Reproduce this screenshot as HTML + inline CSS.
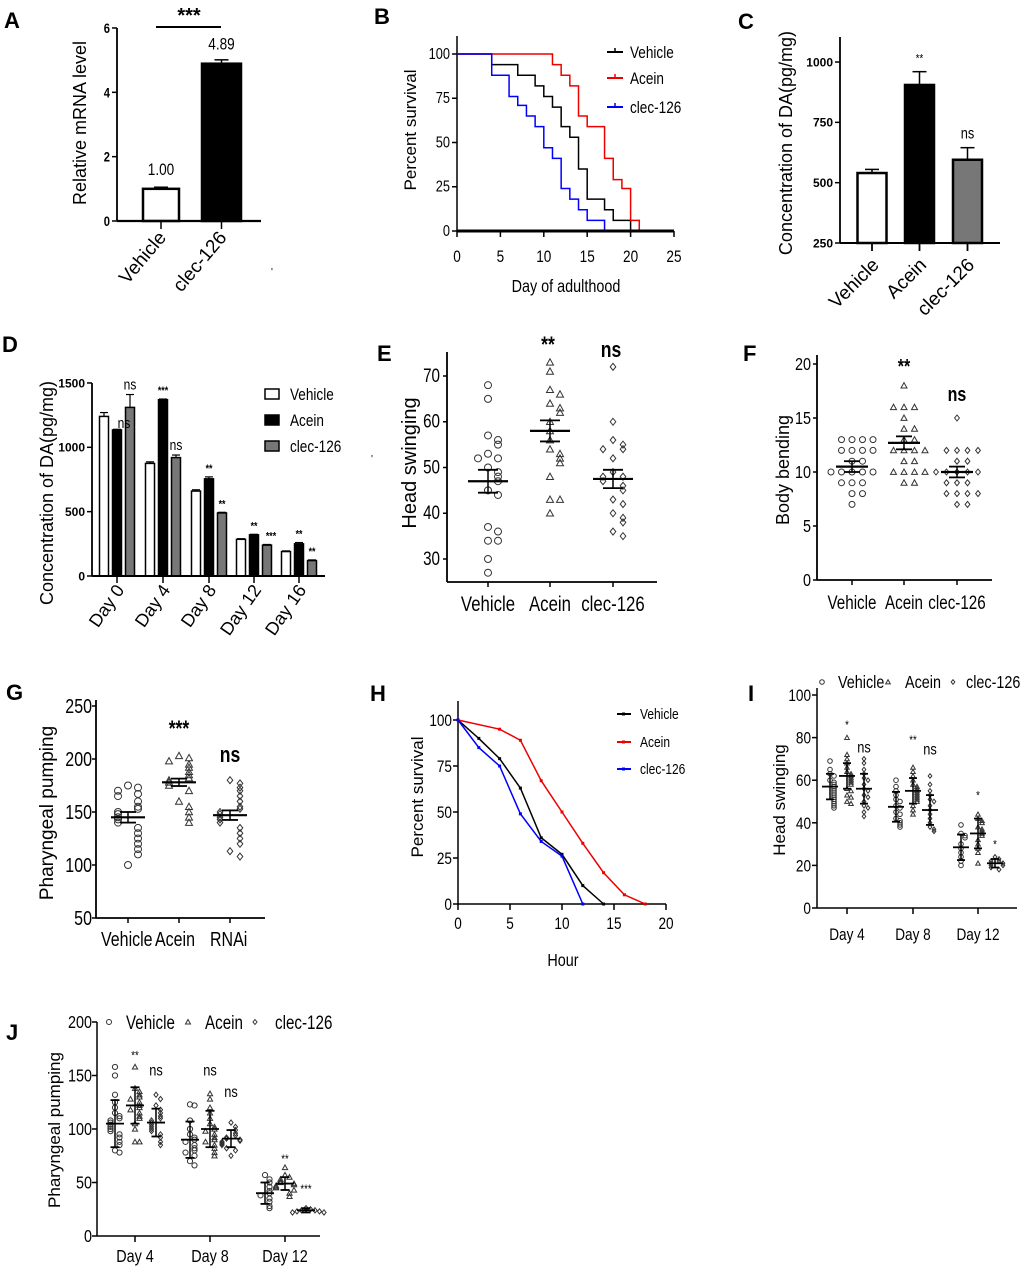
<!DOCTYPE html>
<html><head><meta charset="utf-8"><style>
html,body{margin:0;padding:0;background:#fff}
svg{display:block}
text{font-family:"Liberation Sans",sans-serif;fill:#000}
</style></head><body>
<svg id="fig" width="1020" height="1281" viewBox="0 0 1020 1281" xmlns="http://www.w3.org/2000/svg"></svg>
<script>
// ---- Panel A data
const aCats=["Vehicle","clec-126"];
const aVals=[1.00,4.89];
const aErr=[0.05,0.12];
const aTicks=[0,2,4,6];
// ---- Panel B data
const bDays=[0,4,6,7,8,9,10,11,12,13,14,15,17,18,19,20,21];
const bVehicle=[100,94,94,88,88,82,76,70,59,53,35,18,12,6,6,0,0];
const bAcein=[100,100,100,100,100,100,100,94,88,82,65,59,41,29,24,6,0];
const bClec=[100,88,76,71,65,59,47,41,24,18,12,6,0,0,0,0,0];
const bXTicks=[0,5,10,15,20,25];
const bYTicks=[0,25,50,75,100];
// ---- Panel C data
const cCats=["Vehicle","Acein","clec-126"];
const cVals=[540,905,595];
const cErr=[15,55,50];
const cSig=["","**","ns"];
const cTicks=[250,500,750,1000];
// ---- Panel D data
const dDays=["Day 0","Day 4","Day 8","Day 12","Day 16"];
const dVehicle=[1240,875,660,285,190];
const dAcein=[1135,1370,755,320,250];
const dClec=[1310,920,490,240,120];
const dErrV=[30,12,10,5,5];
const dErrA=[5,5,15,4,10];
const dErrC=[100,20,5,5,5];
const dSigA=["ns","***","**","**","**"];
const dSigC=["ns","ns","**","***","**"];
const dTicks=[0,500,1000,1500];
// ---- Panel E data
const eCats=["Vehicle","Acein","clec-126"];
const eVehicle=[68,65,57,56,55,53,52,52,50,49,48,47,45,44,37,36,34,34,30,27];
const eAcein=[73,71,67,66,64,63,62,60,58,56,54,53,52,51,48,43,43,40];
const eClec=[72,60,56,55,54,54,52,49,48,48,47,46,45,43,42,40,39,38,36,35];
const eMeans=[47,58,47.5];
const eSem=[2.5,2.3,2];
const eSig=["","**","ns"];
const eTicks=[30,40,50,60,70];
// ---- Panel F data
const fCats=["Vehicle","Acein","clec-126"];
const fVehicle=[13,13,13,13,12,12,12,12,11,11,10,10,10,10,10,9,9,9,8,8,7];
const fAcein=[18,16,16,16,15,14,14,13,13,12,12,12,12,11,11,10,10,10,10,9,9];
const fClec=[15,12,12,12,12,11,11,10,10,10,10,10,9,9,9,8,8,8,8,7,7];
const fMeans=[10.5,12.7,10];
const fSem=[0.5,0.6,0.5];
const fSig=["","**","ns"];
const fTicks=[0,5,10,15,20];
// ---- Panel G data
const gCats=["Vehicle","Acein","RNAi"];
const gVehicle=[175,173,170,167,165,160,155,153,150,148,145,143,140,135,130,125,120,115,110,100];
const gAcein=[203,201,198,195,192,188,185,182,180,178,175,170,160,155,150,145,140];
const gRnai=[180,177,173,170,165,160,155,153,150,148,145,143,140,135,130,125,120,113,108];
const gMeans=[145,178,147];
const gSem=[5,3.5,4.5];
const gSig=["","***","ns"];
const gTicks=[50,100,150,200,250];
// ---- Panel H data
const hVehX=[0,2,4,6,8,10,12,14];
const hVehY=[100,90,79,63,36,27,10,0];
const hAceX=[0,4,6,8,10,12,14,16,18];
const hAceY=[100,95,89,67,50,33,17,5,0];
const hClecX=[0,2,4,6,8,10,12];
const hClecY=[100,85,75,49,34,26,0];
const hXTicks=[0,5,10,15,20];
const hYTicks=[0,25,50,75,100];
// ---- Panel I data
const iDays=["Day 4","Day 8","Day 12"];
const iVehicle=[[69,65,63,62,60,59,58,57,56,55,54,53,52,51,50,49,48,47],[60,57,55,53,51,50,48,47,45,44,42,41,40,39,38],[39,35,34,33,30,28,26,24,22,20]];
const iAcein=[[80,72,70,68,66,64,63,62,61,60,59,58,56,55,53,52,50,49],[66,64,62,60,58,57,56,55,54,53,52,51,50,48,46,44],[44,42,41,40,38,37,36,35,34,32,30,28,26,21]];
const iClec=[[70,68,65,63,61,60,58,56,55,53,52,50,48,47,45,43],[62,58,55,53,51,50,48,46,44,42,40,38,37,36],[24,23,22,22,21,21,20,20,19,18]];
const iMeans=[[57,62,56],[47.5,55,46],[28.5,35,21]];
const iSd=[[6,6,7],[7,6,7],[6,7,2]];
const iSigA=["*","**","*"];
const iSigC=["ns","ns","*"];
const iSigAVal=[84,77,51];
const iSigCVal=[73,72,28];
const iTicks=[0,20,40,60,80,100];
// ---- Panel J data
const jDays=["Day 4","Day 8","Day 12"];
const jVehicle=[[158,150,132,125,120,115,112,110,108,106,104,102,100,98,95,92,88,85,80,78],[123,122,108,100,95,92,90,88,85,82,80,78,75,70,66],[57,53,50,46,42,40,38,35,32,28,26]];
const jAcein=[[158,138,135,132,130,128,125,122,120,118,115,112,110,105,100,88,88],[133,128,120,115,110,105,102,100,98,95,92,90,88,85,82,78,75],[64,57,55,53,51,50,49,48,47,46,45,43,40,37]];
const jClec=[[132,128,122,118,115,112,110,108,106,104,102,100,98,95,92,88,85],[106,102,99,96,94,92,91,90,89,88,87,86,85,82,80,75],[26,25,24,24,23,23,22,22]];
const jMeans=[[105,122,106],[90,100,91],[40,49,24]];
const jSd=[[22,17,13],[17,17,8],[10,6,2]];
const jSigA=["**","ns","**"];
const jSigC=["ns","ns","***"];
const jSigAVal=[165,150,68];
const jSigCVal=[150,130,40];
const jTicks=[0,50,100,150,200];

const NS="http://www.w3.org/2000/svg";
const svg=document.getElementById('fig');
function mk(tag,attrs,name,parent){
  const el=document.createElementNS(NS,tag);
  for(const k in attrs) el.setAttribute(k,attrs[k]);
  
  
  (parent||svg).appendChild(el);
  return el;
}
function line(x1,y1,x2,y2,name,sw,col){return mk('line',{x1,y1,x2,y2,stroke:col||'#000','stroke-width':sw||1.5},name);}
function txt(x,y,s,name,opt){
  opt=opt||{};
  const a={x,y,'font-size':opt.fs||14,'text-anchor':opt.anchor||'middle'};
  if(opt.bold)a['font-weight']='bold';
  let tr='';
  if(opt.rot!==undefined)tr+='rotate('+opt.rot+' '+x+' '+y+') ';
  if(opt.cls==='n')tr+='translate('+x+' '+y+') scale(0.8 1) translate('+(-x)+' '+(-y)+')';
  if(tr)a.transform=tr;
  if(opt.fill)a.fill=opt.fill;
  const t=mk('text',a,name);t.textContent=s;return t;
}
function yAxis(x,yTop,yBot,ticks,ys,name,fs,bold,cls){
  line(x,yTop,x,yBot,name+'-line',1.8);
  ticks.forEach(v=>{const y=ys(v);line(x-5,y,x,y,name+'-tick',1.5);
    txt(x-7,y+fs*0.36,String(v),name+'-tick-label',{fs,anchor:'end',bold,cls});});
}
function marker(shape,x,y,r,name){
  if(shape==='c') return mk('circle',{cx:x,cy:y,r,fill:'none',stroke:'#333','stroke-width':1},name);
  if(shape==='t') return mk('polygon',{points:`${x},${y-r} ${x-r},${y+r*0.8} ${x+r},${y+r*0.8}`,fill:'none',stroke:'#333','stroke-width':1},name);
  return mk('polygon',{points:`${x},${y-r} ${x+r*0.8},${y} ${x},${y+r} ${x-r*0.8},${y}`,fill:'none',stroke:'#333','stroke-width':1},name);
}
function swarm(vals,cx,ys,shape,r,sp,name){
  const placed=[];
  vals.forEach(v=>{const y=ys(v);let k=placed.filter(p=>Math.abs(p-y)<r*1.7).length;placed.push(y);
    const off=k===0?0:(k%2?1:-1)*Math.ceil(k/2)*sp;marker(shape,cx+off,y,r,name);});
}
function errBar(cx,m,e,ys,hw,cw,name,sw){
  line(cx-hw,ys(m),cx+hw,ys(m),name+'-mean',sw||2.2);
  line(cx,ys(m-e),cx,ys(m+e),name+'-bar',1.5);
  line(cx-cw,ys(m+e),cx+cw,ys(m+e),name+'-cap',1.8);
  line(cx-cw,ys(m-e),cx+cw,ys(m-e),name+'-cap',1.8);
}
function panelLabel(x,y,s){txt(x,y,s,'panel-label-'+s.toLowerCase(),{fs:22,bold:true,anchor:'start'});}

// ===== A
panelLabel(4,28,'A');
const yA=v=>221-v*32.17;
const aX=[161,221.5],aW=[36,39];
aCats.forEach((c,i)=>{
  mk('rect',{x:aX[i]-aW[i]/2,y:yA(aVals[i]),width:aW[i],height:221-yA(aVals[i]),fill:i?'#000':'#fff',stroke:'#000','stroke-width':2.5},'bar-'+c);
  line(aX[i]-7,yA(aVals[i]+aErr[i]),aX[i]+7,yA(aVals[i]+aErr[i]),'error-cap',1.5);
  line(aX[i],yA(aVals[i]),aX[i],yA(aVals[i]+aErr[i]),'error-bar',1.5);
  txt(aX[i],yA(aVals[i])-14,aVals[i].toFixed(2),'value-label',{fs:17,cls:'n'});
  line(aX[i],221,aX[i],229,'x-tick',1.5);
  txt(aX[i]+6,238,c,'x-tick-label',{fs:19,anchor:'end',rot:-50});
});
yAxis(117,28,221,aTicks,yA,'a-y-axis',14,true,'n');
line(117,221,261,221,'a-x-axis',2.2);
line(156,27,221,27,'significance-line',2);
txt(189,22,'***','significance-stars',{fs:20,bold:true});
txt(86,123,'Relative mRNA level','a-y-axis-title',{fs:18,rot:-90});
txt(272,275,"'",'stray-mark',{fs:10,fill:'#888'});

// ===== B
panelLabel(374,24,'B');
const xB=d=>457+d*8.68, yB=p=>231-p*1.77;
line(457,36,457,231,'b-y-axis',1.5);
bYTicks.forEach(v=>{line(452,yB(v),457,yB(v),'b-y-tick',1.5);txt(450,yB(v)+5,String(v),'b-y-tick-label',{fs:16,anchor:'end',cls:'n'});});
bXTicks.forEach(v=>{line(xB(v),231,xB(v),237,'b-x-tick',1.5);txt(xB(v),262,String(v),'b-x-tick-label',{fs:17,cls:'n'});});
function step(xs,ys,col,name){let d='';xs.forEach((x,i)=>{if(i===0)d+=`M${xB(x)},${yB(ys[i])}`;else d+=`H${xB(x)}V${yB(ys[i])}`;});
  mk('path',{d,fill:'none',stroke:col,'stroke-width':1.5},name);}
step(bDays,bVehicle,'#000','survival-vehicle');
step(bDays,bAcein,'#e00','survival-acein');
step(bDays,bClec,'#00f','survival-clec-126');
line(457,231,674,231,'b-x-axis',3);
[['Vehicle','#000',52],['Acein','#e00',78],['clec-126','#00f',107]].forEach(l=>{line(607,l[2],623,l[2],'legend-line',2,l[1]);line(615,l[2]-4,615,l[2],'legend-tick',1.5,l[1]);txt(630,l[2]+6,l[0],'legend-entry',{fs:17,anchor:'start',cls:'n'});});
txt(566,292,'Day of adulthood','b-x-axis-title',{fs:18,cls:'n'});
txt(416,130,'Percent survival','b-y-axis-title',{fs:17,rot:-90});

// ===== C
txt(738,29,'C','panel-label-c',{fs:22,bold:true,anchor:'start'});
const yC=v=>243-(v-250)*0.2413;
const cX=[872,919.5,967.5], cFill=['#fff','#000','#777'];
cCats.forEach((c,i)=>{
  mk('rect',{x:cX[i]-14.5,y:yC(cVals[i]),width:29,height:243-yC(cVals[i]),fill:cFill[i],stroke:'#000','stroke-width':2.5},'bar-'+c);
  line(cX[i],yC(cVals[i]),cX[i],yC(cVals[i]+cErr[i]),'error-bar',1.5);
  line(cX[i]-7,yC(cVals[i]+cErr[i]),cX[i]+7,yC(cVals[i]+cErr[i]),'error-cap',1.5);
  if(cSig[i])txt(cX[i],yC(cVals[i]+cErr[i])-9,cSig[i],'significance-label',{fs:cSig[i]==='ns'?16:12,cls:'n'});
  line(cX[i],243,cX[i],251,'x-tick',1.8);
  txt(cX[i]+8,266,c,'x-tick-label',{fs:19,anchor:'end',rot:-45});
});
yAxis(840,37,243,cTicks,yC,'c-y-axis',12,true);
line(840,243,1000,243,'c-x-axis',2);
txt(792,143,'Concentration of DA(pg/mg)','c-y-axis-title',{fs:18,rot:-90});

// ===== D
panelLabel(2,352,'D');
const yD=v=>576-v*0.1287;
const dX=[117,163,209,254,299];
const dSeries=[[dVehicle,dErrV,'#fff',-13],[dAcein,dErrA,'#000',0],[dClec,dErrC,'#777',13]];
dDays.forEach((d,i)=>{
  dSeries.forEach((s,j)=>{const cx=dX[i]+s[3];
    mk('rect',{x:cx-4.5,y:yD(s[0][i]),width:9,height:576-yD(s[0][i]),fill:s[2],stroke:'#000','stroke-width':1.5},'bar-'+d.replace(' ','-').toLowerCase());
    line(cx,yD(s[0][i]),cx,yD(s[0][i]+s[1][i]),'error-bar',1.2);
    line(cx-4,yD(s[0][i]+s[1][i]),cx+4,yD(s[0][i]+s[1][i]),'error-cap',1.2);
  });
  [[dSigA[i],0],[dSigC[i],13]].forEach(([s,o],k)=>{const cx=dX[i]+o;let v=k?dClec[i]+dErrC[i]:dAcein[i]+dErrA[i];
    let x=cx,y=yD(v)-5;
    if(i===0&&k===0){x=dX[0]+7;y=yD(dAcein[0])-2;}
    if(i===3&&k===1){x=cx+4;}
    txt(x,y,s,'significance-label',{fs:s==='ns'?15:11,bold:s!=='ns',cls:'n'});});
  line(dX[i],576,dX[i],583,'x-tick',1.5);
  txt(dX[i]+8,590,d,'x-tick-label',{fs:18,anchor:'end',rot:-55});
});
yAxis(92,383,576,dTicks,yD,'d-y-axis',12,true);
line(92,576,325,576,'d-x-axis',2);
[['Vehicle','#fff',394],['Acein','#000',420],['clec-126','#777',446]].forEach(l=>{mk('rect',{x:265,y:l[2]-5,width:14,height:10,fill:l[1],stroke:'#000','stroke-width':1.5},'legend-swatch');txt(290,l[2]+6,l[0],'legend-entry',{fs:17,anchor:'start',cls:'n'});});
txt(53,493,'Concentration of DA(pg/mg)','d-y-axis-title',{fs:18,rot:-90});

// ===== E
panelLabel(377,361,'E');
const yE=v=>376+(70-v)*4.575;
const eX=[488,550,613];
line(447,352,447,582,'e-y-axis',1.8);
eTicks.forEach(v=>{line(443,yE(v),447,yE(v),'e-y-tick',1.5);txt(440,yE(v)+6,String(v),'e-y-tick-label',{fs:19,anchor:'end',cls:'n'});});
line(447,582,657,582,'e-x-axis',1.8);
[[eVehicle,'c'],[eAcein,'t'],[eClec,'d']].forEach((s,i)=>{swarm(s[0],eX[i],yE,s[1],3.5,10,'point-'+eCats[i]);
  errBar(eX[i],eMeans[i],eSem[i],yE,20,10,'mean-'+eCats[i]);
  line(eX[i],582,eX[i],587,'x-tick',1.5);
  txt(eX[i],611,eCats[i],'x-tick-label',{fs:21,cls:'n'});
  if(eSig[i])txt(eX[i]-2,eSig[i]==='ns'?357:352,eSig[i],'significance-label',{fs:22,bold:true,cls:'n'});});
txt(416,463,'Head swinging','e-y-axis-title',{fs:20,rot:-90});
txt(372,462,"'",'stray-mark',{fs:10,fill:'#888'});

// ===== F
panelLabel(743,361,'F');
const yF=v=>580-v*10.8;
const fX=[852,904,957];
line(817,355,817,580,'f-y-axis',1.8);
fTicks.forEach(v=>{line(813,yF(v),817,yF(v),'f-y-tick',1.5);txt(811,yF(v)+6,String(v),'f-y-tick-label',{fs:18,anchor:'end',cls:'n'});});
line(817,580,992,580,'f-x-axis',1.8);
[[fVehicle,'c'],[fAcein,'t'],[fClec,'d']].forEach((s,i)=>{swarm(s[0],fX[i],yF,s[1],3,10.5,'point-'+fCats[i]);
  errBar(fX[i],fMeans[i],fSem[i],yF,16,8,'mean-'+fCats[i]);
  line(fX[i],580,fX[i],585,'x-tick',1.5);
  txt(fX[i],609,fCats[i],'x-tick-label',{fs:19,cls:'n'});
  if(fSig[i])txt(fX[i],fSig[i]==='ns'?401:373,fSig[i],'significance-label',{fs:20,bold:true,cls:'n'});});
txt(789,470,'Body bending','f-y-axis-title',{fs:18,rot:-90});

// ===== G
panelLabel(6,700,'G');
const yG=v=>918-(v-50)*1.06;
const gX=[128,179,230];
line(96,700,96,918,'g-y-axis',1.8);
gTicks.forEach(v=>{line(92,yG(v),96,yG(v),'g-y-tick',1.5);txt(92,yG(v)+7,String(v),'g-y-tick-label',{fs:20,anchor:'end',cls:'n'});});
line(96,918,265,918,'g-x-axis',1.8);
[[gVehicle,'c'],[gAcein,'t'],[gRnai,'d']].forEach((s,i)=>{swarm(s[0],gX[i],yG,s[1],3.5,10,'point-'+gCats[i]);
  errBar(gX[i],gMeans[i],gSem[i],yG,17,8,'mean-'+gCats[i]);
  line(gX[i],918,gX[i],923,'x-tick',1.5);
  if(gSig[i])txt(gX[i],gSig[i]==='ns'?762:736,gSig[i],'significance-label',{fs:22,bold:true,cls:'n'});});
txt(101,946,'Vehicle','x-tick-label',{fs:20,anchor:'start',cls:'n'});
txt(155,946,'Acein','x-tick-label',{fs:20,anchor:'start',cls:'n'});
txt(210,946,'RNAi','x-tick-label',{fs:20,anchor:'start',cls:'n'});
txt(53,813,'Pharyngeal pumping','g-y-axis-title',{fs:19,rot:-90});

// ===== H
panelLabel(370,701,'H');
const xH=h=>458+h*10.4, yH=p=>904-p*1.84;
line(458,701,458,904,'h-y-axis',1.5);
hYTicks.forEach(v=>{line(453,yH(v),458,yH(v),'h-y-tick',1.5);txt(452,yH(v)+6,String(v),'h-y-tick-label',{fs:17,anchor:'end',cls:'n'});});
line(458,904,666,904,'h-x-axis',1.5);
hXTicks.forEach(v=>{line(xH(v),904,xH(v),910,'h-x-tick',1.5);txt(xH(v),929,String(v),'h-x-tick-label',{fs:17,cls:'n'});});
function poly(xs,ys,col,name){mk('polyline',{points:xs.map((x,i)=>xH(x)+','+yH(ys[i])).join(' '),fill:'none',stroke:col,'stroke-width':1.5},name);
  xs.forEach((x,i)=>mk('rect',{x:xH(x)-1.5,y:yH(ys[i])-1.5,width:3,height:3,fill:col},name+'-point'));}
poly(hVehX,hVehY,'#000','hour-survival-vehicle');
poly(hAceX,hAceY,'#e00','hour-survival-acein');
poly(hClecX,hClecY,'#00f','hour-survival-clec-126');
[['Vehicle','#000',714],['Acein','#e00',742],['clec-126','#00f',769]].forEach(l=>{line(617,l[2],631,l[2],'legend-line',2,l[1]);mk('rect',{x:622,y:l[2]-1.5,width:3,height:3,fill:l[1]},'legend-marker');txt(640,l[2]+5,l[0],'legend-entry',{fs:15,anchor:'start',cls:'n'});});
txt(563,966,'Hour','h-x-axis-title',{fs:18,cls:'n'});
txt(423,797,'Percent survival','h-y-axis-title',{fs:17,rot:-90});

// ===== I
panelLabel(748,701,'I');
const yI=v=>908-v*2.13;
const iX=[847,913,978], iOff=[-17,0,17];
line(817,688,817,908,'i-y-axis',1.5);
iTicks.forEach(v=>{line(812,yI(v),817,yI(v),'i-y-tick',1.5);txt(811,yI(v)+6,String(v),'i-y-tick-label',{fs:17,anchor:'end',cls:'n'});});
line(817,908,1017,908,'i-x-axis',1.5);
iDays.forEach((d,g)=>{
  [[iVehicle,'c'],[iAcein,'t'],[iClec,'d']].forEach((s,k)=>{const cx=iX[g]+iOff[k];
    swarm(s[0][g],cx,yI,s[1],2.3,4,'point-'+d.replace(' ','-').toLowerCase());
    errBar(cx,iMeans[g][k],iSd[g][k],yI,8,4,'mean-sd',1.8);});
  txt(iX[g],yI(iSigAVal[g]),iSigA[g],'significance-label',{fs:iSigA[g]==='ns'?15:12,cls:'n'});
  txt(iX[g]+17,yI(iSigCVal[g]),iSigC[g],'significance-label',{fs:iSigC[g]==='ns'?16:12,cls:'n'});
  line(iX[g],908,iX[g],914,'x-tick',1.5);
  txt(iX[g],940,d,'x-tick-label',{fs:17,cls:'n'});
});
[['c',822,'Vehicle',838],['t',888,'Acein',905],['d',953,'clec-126',966]].forEach(l=>{marker(l[0],l[1],682,2.3,'legend-marker');txt(l[3],688,l[2],'legend-entry',{fs:18,anchor:'start',cls:'n'});});
txt(785,800,'Head swinging','i-y-axis-title',{fs:17,rot:-90});

// ===== J
panelLabel(6,1040,'J');
const yJ=v=>1236-v*1.07;
const jX=[135,210,285], jOff=[-20,0,21];
line(97,1022,97,1236,'j-y-axis',1.5);
jTicks.forEach(v=>{line(92,yJ(v),97,yJ(v),'j-y-tick',1.5);txt(92,yJ(v)+6,String(v),'j-y-tick-label',{fs:18,anchor:'end',cls:'n'});});
line(97,1236,320,1236,'j-x-axis',1.5);
jDays.forEach((d,g)=>{
  [[jVehicle,'c'],[jAcein,'t'],[jClec,'d']].forEach((s,k)=>{const cx=jX[g]+jOff[k];
    swarm(s[0][g],cx,yJ,s[1],2.6,4.5,'point-'+d.replace(' ','-').toLowerCase());
    errBar(cx,jMeans[g][k],jSd[g][k],yJ,9,4.5,'mean-sd',1.8);});
  txt(jX[g],yJ(jSigAVal[g]),jSigA[g],'significance-label',{fs:jSigA[g]==='ns'?16:12,cls:'n'});
  txt(jX[g]+21,yJ(jSigCVal[g]),jSigC[g],'significance-label',{fs:jSigC[g]==='ns'?16:12,cls:'n'});
  line(jX[g],1236,jX[g],1242,'x-tick',1.5);
  txt(jX[g],1262,d,'x-tick-label',{fs:18,cls:'n'});
});
[['c',109,'Vehicle',126],['t',188,'Acein',205],['d',255,'clec-126',275]].forEach(l=>{marker(l[0],l[1],1022,2.5,'legend-marker');txt(l[3],1029,l[2],'legend-entry',{fs:19,anchor:'start',cls:'n'});});
txt(60,1130,'Pharyngeal pumping','j-y-axis-title',{fs:17,rot:-90});
</script>
</body></html>
